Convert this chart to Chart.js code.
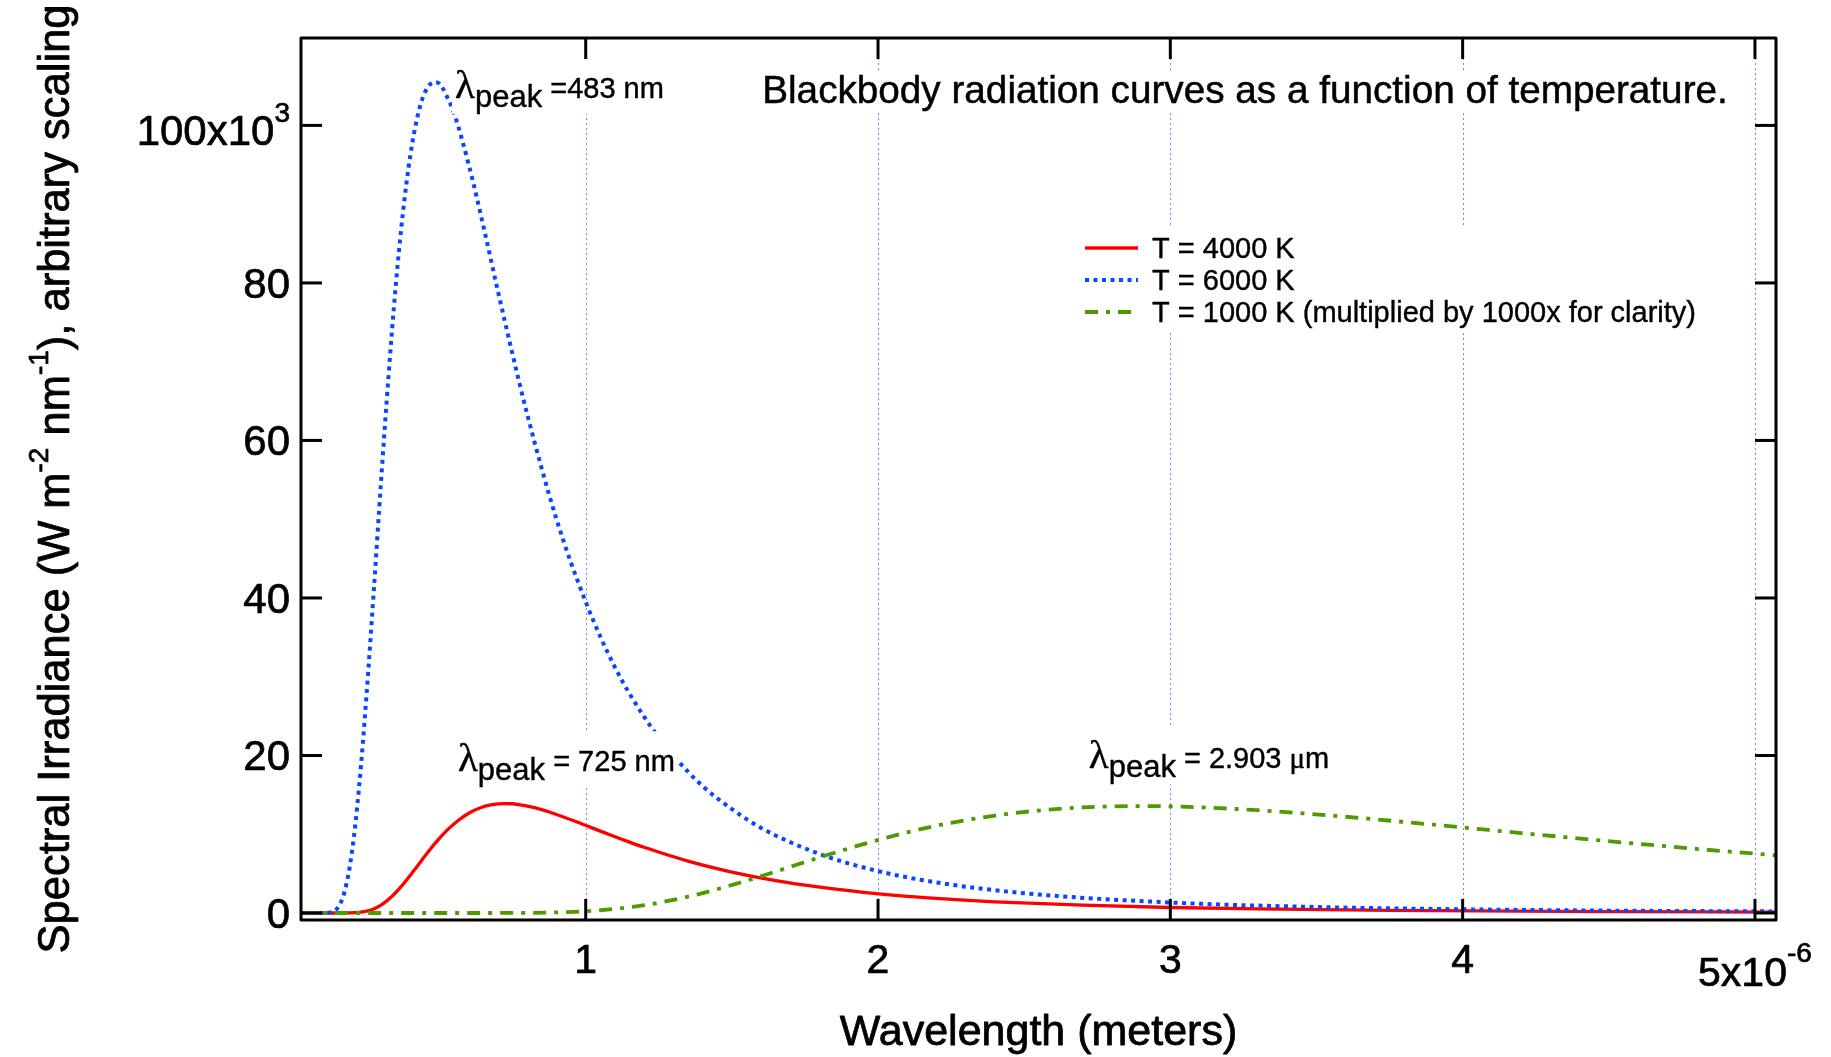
<!DOCTYPE html>
<html>
<head>
<meta charset="utf-8">
<script src="https://cdn.jsdelivr.net/npm/chart.js@4.4.1/dist/chart.umd.min.js"></script>
<style>
  html, body { margin: 0; padding: 0; background: #fff; }
  #wrap { width: 1831px; height: 1057px; }
</style>
</head>
<body>
<div id="wrap"><canvas id="graph-canvas" width="1831" height="1057"></canvas></div>
<script>
// wavelength in micrometres (axis reads x10^-6 m), irradiance in units of 10^3
const wl4000 = [0.03, 0.15, 0.1875, 0.225, 0.2625, 0.3, 0.3375, 0.375, 0.4125, 0.45, 0.4875, 0.525, 0.5625, 0.6, 0.6375, 0.675, 0.725, 0.75, 0.7875, 0.825, 0.9, 0.975, 1.05, 1.125, 1.2, 1.35, 1.5, 1.65, 1.8, 1.95, 2.1, 2.25, 2.4, 2.7, 3.0, 3.3, 3.75, 4.5, 5.07];
const irr4000 = [0, 0, 0.01, 0.08, 0.35, 1.01, 2.12, 3.63, 5.39, 7.23, 8.96, 10.48, 11.72, 12.67, 13.33, 13.72, 13.89, 13.87, 13.66, 13.37, 12.51, 11.48, 10.39, 9.34, 8.34, 6.59, 5.20, 4.11, 3.28, 2.63, 2.12, 1.74, 1.42, 0.99, 0.70, 0.51, 0.33, 0.18, 0.12];

const wl6000 = [0.03, 0.1, 0.125, 0.15, 0.175, 0.2, 0.225, 0.25, 0.275, 0.3, 0.325, 0.35, 0.375, 0.4, 0.425, 0.45, 0.483, 0.5, 0.525, 0.55, 0.6, 0.65, 0.7, 0.75, 0.8, 0.9, 1.0, 1.1, 1.2, 1.3, 1.4, 1.5, 1.6, 1.8, 2.0, 2.2, 2.5, 3.0, 3.5, 4.0, 4.5, 5.07];
const irr6000 = [0, 0, 0.06, 0.59, 2.69, 7.66, 16.1, 27.6, 40.9, 54.9, 68.0, 79.6, 89.0, 96.2, 101.2, 104.2, 105.5, 105.3, 103.7, 101.5, 95.0, 87.2, 78.9, 70.9, 63.3, 50.0, 39.5, 31.2, 24.9, 20.0, 16.1, 13.2, 10.8, 7.49, 5.32, 3.88, 2.51, 1.33, 0.76, 0.47, 0.30, 0.20];

// 1000 K curve already multiplied by 1000
const wl1000 = [0.03, 0.6, 0.75, 0.9, 1.05, 1.2, 1.35, 1.5, 1.65, 1.8, 1.95, 2.1, 2.25, 2.4, 2.55, 2.7, 2.9, 3.0, 3.15, 3.3, 3.6, 3.9, 4.2, 4.5, 4.8, 5.07];
const irr1000 = [0, 0, 0.01, 0.08, 0.35, 0.99, 2.07, 3.55, 5.26, 7.06, 8.74, 10.24, 11.45, 12.37, 13.01, 13.40, 13.57, 13.54, 13.34, 13.05, 12.22, 11.21, 10.15, 9.12, 8.14, 7.33];

const seriesLabels = ['T = 4000 K', 'T = 6000 K', 'T = 1000 K (multiplied by 1000x for clarity)'];

const xTicks = [1, 2, 3, 4, 5];
const xTickLabels = ['1', '2', '3', '4', '5x10'];
const xTickExps = ['', '', '', '', '-6'];
const yTicks = [0, 20, 40, 60, 80, 100];
const yTickLabels = ['0', '20', '40', '60', '80', '100x10'];
const yTickExps = ['', '', '', '', '', '3'];

// peak notes: anchor in data units (left of lambda, text baseline)
const peakX = [0.553, 0.563, 2.721];
const peakY = [103.5, 18.0, 18.4];
const peakText = [' =483 nm', ' = 725 nm', ' = 2.903 \u03bcm'];

const titleText = 'Blackbody radiation curves as a function of temperature.';

const SANS = '"Liberation Sans", Arial, sans-serif';
const SERIF = '"Liberation Serif", "Times New Roman", serif';
const font = (size, fam) => size + 'px ' + (fam || SANS);

const pts = (xs, ys) => xs.map((v, i) => ({ x: v, y: ys[i] }));

function partsWidth(ctx, parts) {
    let w = 0;
    for (const p of parts) { ctx.font = p.font; w += ctx.measureText(p.text).width; }
    return w;
}
// text is filled and lightly stroked to get the heavier look of the original
function drawParts(ctx, parts, x, y, weight) {
    ctx.lineWidth = weight || 0.6;
    ctx.strokeStyle = ctx.fillStyle;
    ctx.lineJoin = 'round';
    for (const p of parts) {
        ctx.font = p.font;
        ctx.fillText(p.text, x, y + (p.dy || 0));
        ctx.strokeText(p.text, x, y + (p.dy || 0));
        x += ctx.measureText(p.text).width;
    }
}
function line(ctx, x1, y1, x2, y2) {
    ctx.beginPath(); ctx.moveTo(x1, y1); ctx.lineTo(x2, y2); ctx.stroke();
}

const TICK = 21;

const decor = {
    id: 'decor',
    beforeDatasetsDraw(chart) {
        const { ctx, chartArea: a, scales: { x } } = chart;
        ctx.save();
        ctx.strokeStyle = '#7d7dff';
        ctx.lineWidth = 1;
        ctx.setLineDash([2, 3]);
        xTicks.forEach(v => {
            const px = Math.round(x.getPixelForValue(v)) + 0.5;
            line(ctx, px, a.top, px, a.bottom);
        });
        ctx.restore();
    },
    afterDatasetsDraw(chart) {
        const { ctx, chartArea: a, scales: { x, y } } = chart;
        ctx.save();
        ctx.textBaseline = 'alphabetic';
        ctx.textAlign = 'left';

        // peak notes, opaque background
        peakText.forEach((t, i) => {
            const parts = [
                { text: '\u03bb', font: font(41, SERIF) },
                { text: 'peak', font: font(31), dy: 9 }
            ];
            t.split(/(\u03bc)/).forEach(s => {
                if (s) parts.push({ text: s, font: s === '\u03bc' ? font(29, SERIF) : font(29) });
            });
            const px = x.getPixelForValue(peakX[i]);
            const py = y.getPixelForValue(peakY[i]);
            const w = partsWidth(ctx, parts);
            ctx.fillStyle = '#fff';
            ctx.fillRect(px - 3, py - 40, w + 6, 56);
            ctx.fillStyle = '#000';
            drawParts(ctx, parts, px, py, 0.4);
        });

        // title
        const tParts = [{ text: titleText, font: font(38.7) }];
        const tw = partsWidth(ctx, tParts);
        const tx = 1245 - tw / 2;
        ctx.fillStyle = '#fff';
        ctx.fillRect(tx - 4, 72, tw + 8, 41);
        ctx.fillStyle = '#000';
        drawParts(ctx, tParts, tx, 103, 0.5);

        // legend
        ctx.fillStyle = '#fff';
        ctx.fillRect(1075, 228, 635, 102);
        chart.data.datasets.forEach((ds, i) => {
            const cy = 248 + i * 32;
            ctx.save();
            ctx.strokeStyle = ds.borderColor;
            ctx.lineWidth = ds.borderWidth;
            ctx.setLineDash(ds.borderDash || []);
            line(ctx, 1085, cy, 1138, cy);
            ctx.restore();
            ctx.fillStyle = '#000';
            drawParts(ctx, [{ text: ds.label, font: font(29) }], 1152, cy + 10, 0.4);
        });

        // frame and inward ticks
        ctx.strokeStyle = '#000';
        ctx.setLineDash([]);
        ctx.lineWidth = 3;
        yTicks.forEach(v => {
            const py = y.getPixelForValue(v);
            line(ctx, a.left, py, a.left + TICK, py);
            line(ctx, a.right, py, a.right - TICK, py);
        });
        xTicks.forEach(v => {
            const px = x.getPixelForValue(v);
            line(ctx, px, a.bottom, px, a.bottom - TICK);
            line(ctx, px, a.top, px, a.top + TICK);
        });
        ctx.strokeRect(a.left, a.top, a.right - a.left, a.bottom - a.top);

        // tick labels
        ctx.fillStyle = '#000';
        yTicks.forEach((v, i) => {
            const parts = [{ text: yTickLabels[i], font: font(42) }];
            if (yTickExps[i]) parts.push({ text: yTickExps[i], font: font(28), dy: -23 });
            const w = partsWidth(ctx, parts);
            const py = y.getPixelForValue(v) + 15 + (yTickExps[i] ? 5 : 0);
            drawParts(ctx, parts, a.left - 11 - w, py, 0.7);
        });
        xTicks.forEach((v, i) => {
            const parts = [{ text: xTickLabels[i], font: font(41) }];
            if (xTickExps[i]) parts.push({ text: xTickExps[i], font: font(28), dy: -24 });
            const w = partsWidth(ctx, parts);
            const py = a.bottom + 53 + (xTickExps[i] ? 13 : 0);
            drawParts(ctx, parts, x.getPixelForValue(v) - w / 2, py, 0.7);
        });

        // axis titles
        const xTitle = [{ text: 'Wavelength (meters)', font: font(43) }];
        drawParts(ctx, xTitle, (a.left + a.right) / 2 - partsWidth(ctx, xTitle) / 2, 1045, 0.8);

        const yTitle = [
            { text: 'Spectral Irradiance (W m', font: font(43.5) },
            { text: '-2', font: font(28), dy: -21 },
            { text: ' nm', font: font(43.5) },
            { text: '-1', font: font(28), dy: -21 },
            { text: '), arbitrary scaling', font: font(43.5) }
        ];
        const yw = partsWidth(ctx, yTitle);
        ctx.translate(69, (a.top + a.bottom) / 2);
        ctx.rotate(-Math.PI / 2);
        drawParts(ctx, yTitle, -yw / 2, 0, 0.8);
        ctx.restore();
    }
};

const ctx = document.getElementById('graph-canvas');

var chart = new Chart(ctx,
    {
    type: 'line',
    data:
    {
        datasets:
        [{
            label: seriesLabels[0],
            data: pts(wl4000, irr4000),
            borderColor: '#ff0000',
            borderWidth: 3.3,
            order: 3
        },
        {
            label: seriesLabels[1],
            data: pts(wl6000, irr6000),
            borderColor: '#0a46ff',
            borderWidth: 4,
            borderDash: [4, 4.5],
            order: 2
        },
        {
            label: seriesLabels[2],
            data: pts(wl1000, irr1000),
            borderColor: '#4f9a00',
            borderWidth: 3.8,
            borderDash: [13, 8, 4, 8],
            order: 1
        }]
    },
    options:
    {
        responsive: false,
        animation: false,
        events: [],
        layout: { padding: { left: 301, top: 38, right: 55, bottom: 137 } },
        elements:
        {
            point: { radius: 0 },
            line: { cubicInterpolationMode: 'monotone', borderCapStyle: 'butt', fill: false }
        },
        scales:
        {
            x: { type: 'linear', min: 0.026, max: 5.072, display: false },
            y: { type: 'linear', min: -0.89, max: 111.1, display: false }
        },
        plugins:
        {
            legend: { display: false },
            tooltip: { enabled: false }
        }
    },
    plugins: [decor]
});
</script>
</body>
</html>
